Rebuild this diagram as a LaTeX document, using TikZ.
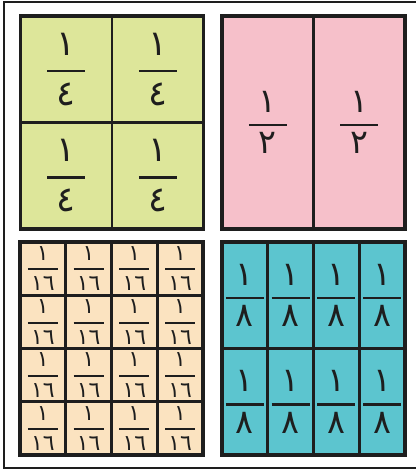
\documentclass[tikz,border=0pt]{standalone}
\usepackage{fontspec}
\usepackage{amsmath}
\newfontfamily\arabicfont[Script=Arabic]{DejaVu Sans}
\usetikzlibrary{positioning}
\definecolor{quartercol}{RGB}{221,230,154}
\definecolor{halfcol}{RGB}{246,192,202}
\definecolor{sixteenthcol}{RGB}{251,227,192}
\definecolor{eighthcol}{RGB}{92,197,207}
\definecolor{linecol}{RGB}{30,30,30}
% fraction: numerator, denominator, bar width
\newcommand{\frc}[3]{$\genfrac{}{}{1.2pt}{0}{\makebox[#3]{\arabicfont#1}}{\makebox[#3]{\arabicfont#2}}$}

\begin{document}
\begin{tikzpicture}[x=0.02cm, y=-0.02cm,
  cell/.style={draw=linecol, line width=1.5pt, inner sep=0pt, outer sep=0pt, text=linecol},
  quarter/.style={cell, fill=quartercol, minimum width=1.83cm, minimum height=2.13cm, font=\fontsize{20}{20}\selectfont},
  half/.style={cell, fill=halfcol, minimum width=1.83cm, minimum height=4.26cm, font=\fontsize{19}{19}\selectfont},
  sixteenth/.style={cell, fill=sixteenthcol, minimum width=0.915cm, minimum height=1.065cm, font=\fontsize{12.5}{12.5}\selectfont},
  eighth/.style={cell, fill=eighthcol, minimum width=0.915cm, minimum height=2.13cm, font=\fontsize{19}{19}\selectfont},
  boxline/.style={draw=linecol, line width=1.8pt}]
\useasboundingbox (0,0) rectangle (415,472);
\draw[linecol, line width=1.2pt] (416,2) -- (4,2) -- (4,468) -- (416,468);

% quarters
\node[quarter] at (66.25,69.25) (q11) {\frc{١}{٤}{0.76cm}};
\node[quarter] at (157.75,69.25) (q21) {\frc{١}{٤}{0.76cm}};
\node[quarter] at (66.25,175.75) (q12) {\frc{١}{٤}{0.76cm}};
\node[quarter] at (157.75,175.75) (q22) {\frc{١}{٤}{0.76cm}};
\draw[boxline] (q11.north west) rectangle (q22.south east);

% halves
\node[half] at (267.75,122.5) (h1) {\frc{١}{٢}{0.76cm}};
\node[half] at (359.25,122.5) (h2) {\frc{١}{٢}{0.76cm}};
\draw[boxline] (h1.north west) rectangle (h2.south east);

% sixteenths
\foreach \i in {1,...,4}
  \foreach \j in {1,...,4}
    \node[sixteenth] at ({20+45.75*(\i-0.5)},{242+53.25*(\j-0.5)}) (s\i\j) {\frc{١}{١٦}{0.6cm}};
\draw[boxline] (s11.north west) rectangle (s44.south east);

% eighths
\foreach \i in {1,...,4}
  \foreach \j in {1,2}
    \node[eighth] at ({222+45.75*(\i-0.5)},{242+106.5*(\j-0.5)}) (e\i\j) {\frc{١}{٨}{0.76cm}};
\draw[boxline] (e11.north west) rectangle (e42.south east);
\end{tikzpicture}
\end{document}
